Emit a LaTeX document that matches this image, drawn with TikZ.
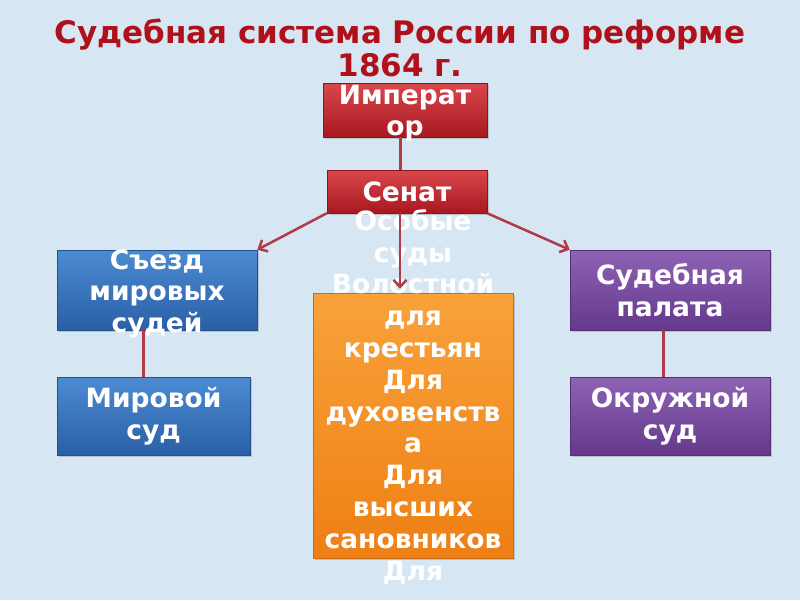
\documentclass[tikz,border=0pt]{standalone}
\usepackage{fontspec}
\setmainfont{DejaVu Sans}
\usetikzlibrary{arrows.meta,shadows}
\definecolor{bg}{HTML}{D6E6F2}
\definecolor{titlered}{HTML}{B0101A}
\definecolor{redtop}{HTML}{D9474C}
\definecolor{redbot}{HTML}{A8181F}
\definecolor{bluetop}{HTML}{4C8BD2}
\definecolor{bluebot}{HTML}{2A5FA6}
\definecolor{purtop}{HTML}{8E62B5}
\definecolor{purbot}{HTML}{64388A}
\definecolor{ortop}{HTML}{F9A23A}
\definecolor{orbot}{HTML}{EE7F14}
\definecolor{conn}{HTML}{B03A47}
\begin{document}
\begin{tikzpicture}[x=1pt,y=-1pt,
  box/.style n args={2}{rectangle, draw=#2!85!black, line width=0.5pt,
    top color=#1, bottom color=#2, inner sep=0pt,
    drop shadow={shadow xshift=1.5pt, shadow yshift=-2pt, opacity=0.35}},
  boxtext/.style={text=white, font=\bfseries\fontsize{26.5}{31.8}\selectfont, align=center, inner sep=0pt},
  link/.style={draw=conn, line width=3pt},
  arr/.style={draw=conn, line width=2.5pt, -{Straight Barb[length=7pt,width=13pt,line width=2.5pt]}}
]
\useasboundingbox[fill=bg] (0,0) rectangle (800,600);

\node[text=titlered, font=\bfseries\fontsize{31}{33}\selectfont, align=center, inner sep=0pt]
  (title) at (400,47.5) {Судебная система России по реформе\\1864 г.};

\node[box={redtop}{redbot}, minimum width=164pt, minimum height=54pt] (emp) at (405,110) {};
\node[box={redtop}{redbot}, minimum width=160pt, minimum height=43pt] (sen) at (407,191.5) {};
\node[box={bluetop}{bluebot}, minimum width=200pt, minimum height=80pt] (sjezd) at (157,290) {};
\node[box={bluetop}{bluebot}, minimum width=193pt, minimum height=78pt] (mir) at (153.5,416) {};
\node[box={purtop}{purbot}, minimum width=200pt, minimum height=80pt] (pal) at (670,290) {};
\node[box={purtop}{purbot}, minimum width=200pt, minimum height=78pt] (okr) at (670,416) {};
\node[box={ortop}{orbot}, minimum width=200pt, minimum height=265pt] (osob) at (413,425.5) {};

\draw[link] ([xshift=-5pt]emp.south) -- ([xshift=-5pt]emp.south |- sen.north);
\draw[link] ([xshift=-14pt]sjezd.south) -- ([xshift=-14pt]sjezd.south |- mir.north);
\draw[link] ([xshift=-7pt]pal.south) -- ([xshift=-7pt]pal.south |- okr.north);

\node[boxtext] (empt) at ([yshift=-3pt]emp.center) {Императ\\ор};
\node[boxtext] (sent) at (sen) {Сенат};
\node[boxtext] (sjezdt) at ([yshift=-4pt]sjezd.center) {Съезд\\мировых\\судей};
\node[boxtext] (mirt) at (mir) {Мировой\\суд};
\node[boxtext] (palt) at (pal) {Судебная\\палата};
\node[boxtext] (okrt) at (okr) {Окружной\\суд};
\node[boxtext, anchor=north] (osobt) at (413,209) {Особые\\суды\\Волостной\\для\\крестьян\\Для\\духовенств\\а\\Для\\высших\\сановников\\Для};

\draw[arr] (sen.south west) -- (sjezd.north east);
\draw[arr] (sen.south east) -- (pal.north west);
\draw[arr] ([xshift=-7pt]sen.south) -- ([xshift=-13pt,yshift=4pt]osob.north);
\end{tikzpicture}
\end{document}
